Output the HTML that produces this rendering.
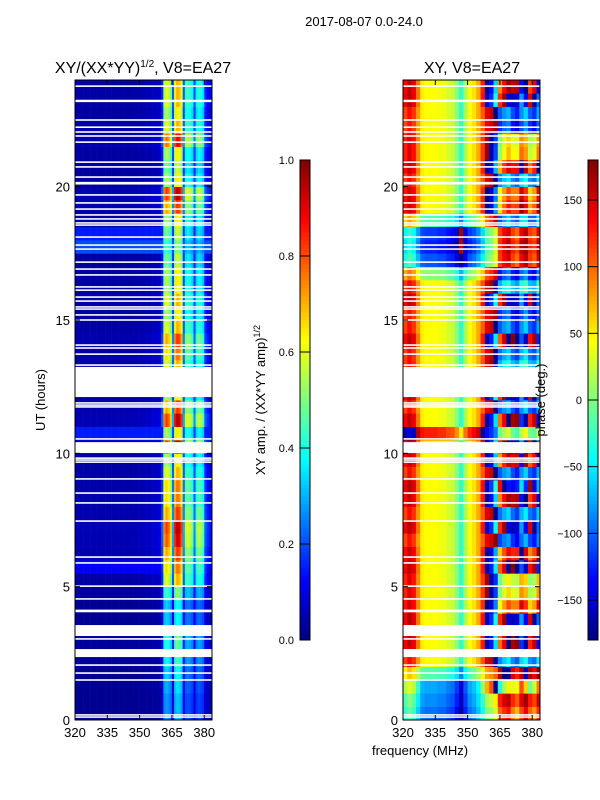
<!DOCTYPE html>
<html><head><meta charset="utf-8"><style>
body{margin:0;background:#fff;width:600px;height:800px;overflow:hidden}
svg{display:block;font-family:"Liberation Sans","DejaVu Sans",sans-serif}
</style></head><body>
<svg id="fig" width="600" height="800" viewBox="0 0 600 800">
<text x="364" y="26" font-size="13" text-anchor="middle">2017-08-07 0.0-24.0</text>
<text x="143" y="73" font-size="16" text-anchor="middle">XY/(XX*YY)<tspan font-size="10" dy="-6">1/2</tspan><tspan dy="6">, V8=EA27</tspan></text>
<text x="472" y="73" font-size="16" text-anchor="middle">XY, V8=EA27</text>
<text transform="translate(45,400) rotate(-90)" font-size="13" text-anchor="middle">UT (hours)</text>
<text x="420" y="755" font-size="13" text-anchor="middle">frequency (MHz)</text>
<text transform="translate(265,400) rotate(-90)" font-size="13" text-anchor="middle">XY amp. / (XX*YY amp)<tspan font-size="9" dy="-5">1/2</tspan></text>
<g id="ampPanel"></g>
<g id="phasePanel"></g>
<g id="axes"></g>
<text transform="translate(545,400) rotate(-90)" font-size="13" text-anchor="middle">phase (deg.)</text>
</svg>
<script>
const freqStart = 320, freqEnd = 383.6, hourStart = 0, hourEnd = 24;
const xTicks = [320, 335, 350, 365, 380];
const yTicks = [0, 5, 10, 15, 20];
const ampTicks = [0.0, 0.2, 0.4, 0.6, 0.8, 1.0];
const phaseTicks = [-150, -100, -50, 0, 50, 100, 150];
// amplitude per 1 MHz column (320..383)
const ampCols = [0.035,0.035,0.035,0.035,0.035,0.035,0.035,0.035,0.035,0.035,0.035,0.035,0.035,0.035,0.035,0.035,0.035,0.035,0.035,0.035,
0.035,0.035,0.035,0.035,0.035,0.035,0.035,0.035,0.035,0.04,0.04,0.04,0.045,0.045,0.045,0.05,0.055,0.055,0.06,0.065,
0.15,0.5,0.55,0.52,0.45,0.2,0.58,0.64,0.62,0.55,0.2,0.38,0.4,0.38,0.34,0.18,0.34,0.38,0.36,0.32,0.15,0.12,0.1,0.08];
// amplitude time factor per 0.5 h (0..24)
const ampRows = [0.5,0.5,0.55,0.6,0.7,0.75,0.8,0.6,0.6,0.8,1.1,1.2,1.3,1.45,1.5,1.3,1.2,1.2,1.1,1.0,1.5,1.0,1.5,1.3,
1.0,1.0,1.1,1.2,1.3,1.1,1.0,1.1,1.0,1.0,0.9,0.8,0.9,1.0,1.3,1.5,1.0,0.9,1.0,1.4,1.1,1.0,1.1,1.1];
const ampFloorRows = [0,0,0,0,0,0,0,0,0,0,0,0.12,0,0,0,0,0,0,0,0,0,0.15,0,0,0,0,0,0,0,0,0,0,0,0,0,0.2,0.15,0,0,0,0,0,0,0,0,0,0,0];
// phase per 2 MHz column (320..384), degrees
const phaseCols = [110,130,115,80,50,45,45,45,40,40,30,25,5,-30,15,45,55,75,100,140,150,170,
-120,-100,-90,-130,-150,-110,-80,-120,-140,-100];
const phaseTwist = [0.1,0.1,0.1,0.05,0,0,0,0,0,0,0,0,0,0,0,0,0,0,0.1,0.2,0.3,0.5,0.8,0.9,1.0,1.1,1.2,1.3,1.0,0.9,1.1,1.2];
const phaseOffset = [-140,-130,-120,-60,0,0,0,0,0,0,0,0,0,0,0,0,0,0,0,0,0,80,0,0,0,0,0,0,0,0,0,0,0,-40,-150,-170,-160,-60,0,0,0,0,0,0,0,0,0,0];
const phaseRows = [0,20,260,-20,40,270,280,300,200,150,140,280,230,10,300,30,260,320,20,250,300,40,270,20,
300,240,60,30,280,20,0,300,60,40,30,60,40,90,220,200,40,240,160,150,0,20,300,260];
// white gaps (no data), hours
const gapStart = [23.74,23.17,22.47,22.2,22.02,21.87,21.64,20.89,20.71,20.33,20.08,19.66,19.36,19.13,18.91,18.76,18.61,18.53,18.08,17.78,17.63,17.14,16.88,16.66,16.21,16.09,15.83,15.68,15.46,15.38,15.16,14.97,14.03,13.92,13.69,13.28,12.11,11.86,11.78,11.71,10.51,10.01,9.79,9.72,9.64,9.01,8.48,8.11,7.43,6.08,5.86,4.99,4.51,4.04,3.15,3.01,2.36,2.03,1.73,1.47,0.16,0.08];
const gapEnd = [23.8,23.26,22.53,22.26,22.08,21.93,21.7,20.95,20.77,20.39,20.18,19.72,19.42,19.19,18.97,18.82,18.67,18.59,18.14,17.84,17.69,17.2,16.94,16.72,16.27,16.15,15.89,15.74,15.52,15.44,15.22,15.03,14.09,13.98,13.75,13.34,13.24,11.92,11.84,11.77,10.57,10.42,9.85,9.78,9.7,9.07,8.54,8.17,7.49,6.14,5.92,5.05,4.57,4.14,3.56,3.07,2.66,2.09,1.79,1.53,0.22,0.14];

const NS='http://www.w3.org/2000/svg';
const L={x0:75,x1:212,y0:80,y1:720}, R={x0:403,x1:540,y0:80,y1:720};
function xs(p,f){return p.x0+(f-freqStart)/(freqEnd-freqStart)*(p.x1-p.x0);}
function ys(p,h){return p.y1-(h-hourStart)/(hourEnd-hourStart)*(p.y1-p.y0);}
function jet(v){v=Math.max(0,Math.min(1,v));
 const r=Math.max(0,Math.min(1,Math.min(4*v-1.5,-4*v+4.5)));
 const g=Math.max(0,Math.min(1,Math.min(4*v-0.5,-4*v+3.5)));
 const b=Math.max(0,Math.min(1,Math.min(4*v+0.5,-4*v+2.5)));
 return 'rgb('+Math.round(r*255)+','+Math.round(g*255)+','+Math.round(b*255)+')';}
function mk(tag,attrs,parent){const e=document.createElementNS(NS,tag);for(const k in attrs)e.setAttribute(k,attrs[k]);parent.appendChild(e);return e;}
function wrap(d){d=((d+180)%360+360)%360-180;return d;}

const ap=document.getElementById('ampPanel');
const rowH=(hourEnd-hourStart)/ampRows.length;
for(let r=0;r<ampRows.length;r++){
 const yTop=ys(L,(r+1)*rowH), yBot=ys(L,r*rowH);
 for(let c=0;c<ampCols.length;c++){
  const f0=freqStart+c, f1=Math.min(freqStart+c+1,freqEnd);
  const v=Math.max(ampCols[c]*ampRows[r],ampFloorRows[r]);
  const el=mk('rect',{x:xs(L,f0).toFixed(2),y:yTop.toFixed(2),width:(xs(L,f1)-xs(L,f0)+0.3).toFixed(2),height:(yBot-yTop+0.3).toFixed(2),fill:jet(v)},ap);
  
  
 }
}
const pp=document.getElementById('phasePanel');
for(let r=0;r<phaseRows.length;r++){
 const yTop=ys(R,(r+1)*rowH), yBot=ys(R,r*rowH);
 for(let c=0;c<phaseCols.length;c++){
  const f0=freqStart+2*c, f1=Math.min(freqStart+2*c+2,freqEnd);
  const d=wrap(phaseCols[c]+phaseOffset[r]+phaseRows[r]*phaseTwist[c]);
  const el=mk('rect',{x:xs(R,f0).toFixed(2),y:yTop.toFixed(2),width:(xs(R,f1)-xs(R,f0)+0.3).toFixed(2),height:(yBot-yTop+0.3).toFixed(2),fill:jet((d+180)/360)},pp);
  
  
 }
}
const ax=document.getElementById('axes');
[L,R].forEach((p,pi)=>{
 for(let i=0;i<gapStart.length;i++){
  const el=mk('rect',{x:p.x0,y:ys(p,gapEnd[i]).toFixed(2),width:p.x1-p.x0,height:(ys(p,gapStart[i])-ys(p,gapEnd[i])).toFixed(2),fill:'#fff'},ax);
  
  
 }
 const fr=mk('rect',{x:p.x0,y:p.y0,width:p.x1-p.x0,height:p.y1-p.y0,fill:'none',stroke:'#000','stroke-width':1},ax);
 
 
 xTicks.forEach(t=>{const x=xs(p,t);
  mk('line',{x1:x,y1:p.y1,x2:x,y2:p.y1-5,stroke:'#000'},ax);
  mk('line',{x1:x,y1:p.y0,x2:x,y2:p.y0+5,stroke:'#000'},ax);
  const tx=mk('text',{x:x,y:p.y1+17,'font-size':13,'text-anchor':'middle'},ax);tx.textContent=t;
  
  });
 yTicks.forEach(t=>{const y=ys(p,t);
  mk('line',{x1:p.x0,y1:y,x2:p.x0+5,y2:y,stroke:'#000'},ax);
  mk('line',{x1:p.x1,y1:y,x2:p.x1-5,y2:y,stroke:'#000'},ax);
  const tx=mk('text',{x:p.x0-5,y:y+5,'font-size':13,'text-anchor':'end'},ax);tx.textContent=t;
  
  });
});
// colorbars
function colorbar(x0,lo,hi,ticks,name){
 const y0=160,y1=640,n=120;
 for(let i=0;i<n;i++){
  const el=mk('rect',{x:x0,y:(y1-(i+1)*(y1-y0)/n).toFixed(2),width:10,height:((y1-y0)/n+0.4).toFixed(2),fill:jet((i+0.5)/n)},ax);
  
  
 }
 const fr=mk('rect',{x:x0,y:y0,width:10,height:y1-y0,fill:'none',stroke:'#000'},ax);
 
 
 ticks.forEach(t=>{const y=y1-(t-lo)/(hi-lo)*(y1-y0);
  mk('line',{x1:x0,y1:y,x2:x0+10,y2:y,stroke:'#000'},ax);
  const tx=mk('text',{x:x0-6,y:y+4,'font-size':11,'text-anchor':'end'},ax);
  tx.textContent=(lo===0?t.toFixed(1):String(t).replace('-','\u2212'));
  
  });
}
colorbar(300,0,1,ampTicks,'amp-colorbar');
colorbar(588,-180,180,phaseTicks,'phase-colorbar');
</script>
</body></html>
